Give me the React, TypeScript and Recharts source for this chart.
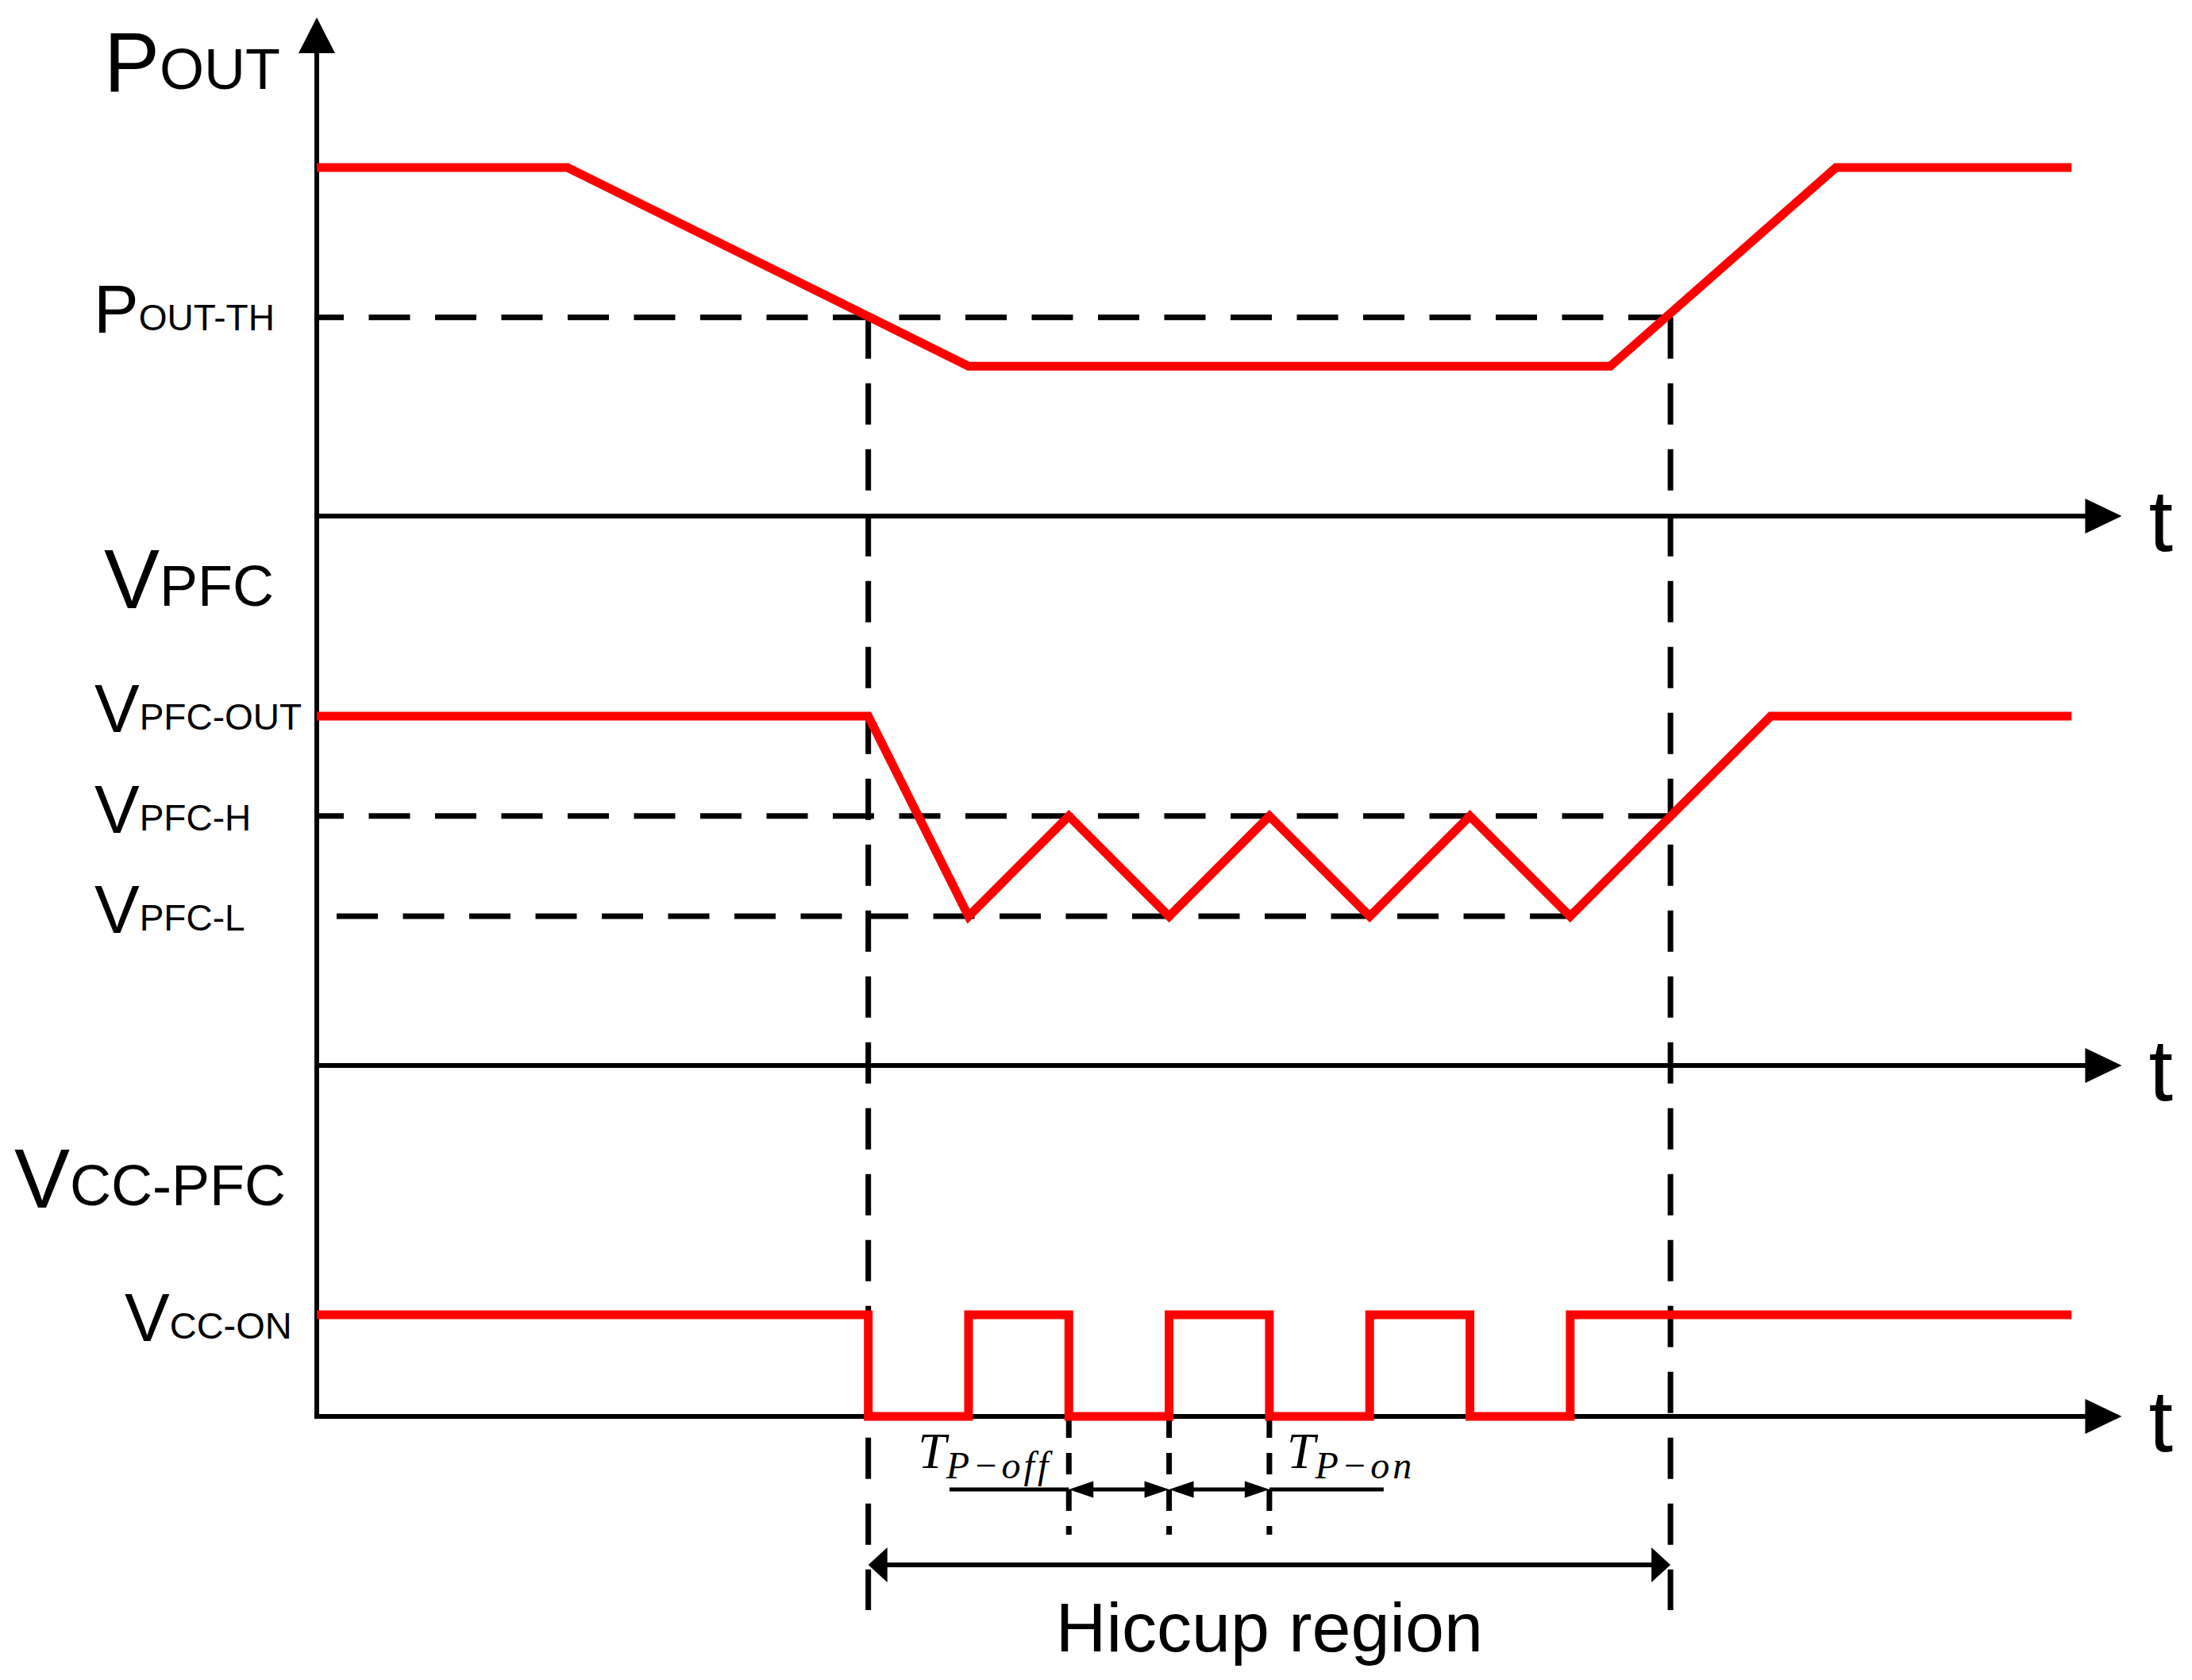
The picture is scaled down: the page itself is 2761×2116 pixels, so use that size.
import { ComposedChart, Line, XAxis, YAxis, ReferenceLine, ReferenceDot } from 'recharts';

// time axis in hiccup half-periods, t = 0 on the vertical axis
const poutTime = [0, 2.5, 6.5, 12.9, 15.15, 17.5];
const poutLevel = [1, 1, 0.43, 0.43, 1, 1];

const vpfcTime = [0, 5.5, 6.5, 7.5, 8.5, 9.5, 10.5, 11.5, 12.5, 14.5, 17.5];
const vpfcLevel = [1, 1, 0.427, 0.714, 0.427, 0.714, 0.427, 0.714, 0.427, 1, 1];

const vccTime = [0, 5.5, 6.5, 7.5, 8.5, 9.5, 10.5, 11.5, 12.5, 17.5];
const vccLevel = [1, 0, 1, 0, 1, 0, 1, 0, 1, 1];

const POUT_TH = 0.57;
const VPFC_OUT = 1;
const VPFC_H = 0.714;
const VPFC_L = 0.427;
const VCC_ON = 1;
const HICCUP = [5.5, 13.5];
const TP_MARKS = [7.5, 8.5, 9.5];
const T_END = 18;

const signalTitles = [['P', 'OUT'], ['V', 'PFC'], ['V', 'CC-PFC']];
const levelTitles = [['P', 'OUT-TH'], ['V', 'PFC-OUT'], ['V', 'PFC-H'], ['V', 'PFC-L'], ['V', 'CC-ON']];
const tpLabels = [['T', 'P−off'], ['T', 'P−on']];
const regionLabel = 'Hiccup region';
const timeLabel = 't';

// layout
const W = 2761;
const H = 2116;
const T_MIN = -3.159;
const T_MAX = 18.701;
const V_MIN = -33.2;
const V_MAX = 178.4;
const lanes: Record<string, { base: number; amp: number }> = {
  pout: { base: 113.4, amp: 43.9 },
  vpfc: { base: 44.2, amp: 44 },
  vcc: { base: 0, amp: 12.8 },
};
const lv = (lane: string, value: number) => lanes[lane].base + value * lanes[lane].amp;

const AXIS_TOP = 176.2;
const VLINE_BOTTOM = -24.4;
const DOT_BOTTOM = -14.9;
const TP_ARROW_V = -9.2;
const HICCUP_ARROW_V = -18.7;
const HICCUP_TEXT_V = -29.6;
const TP_OFF_START = 6.31;
const TP_ON_END = 10.64;
const VPFC_L_START = 0.198;

const SANS = "'Liberation Sans', Arial, sans-serif";
const SERIF = "'Liberation Serif', 'Times New Roman', serif";
const RED = '#ff0000';

const titleStyle = [
  { lane: 'pout', level: 1, dx: -268, dy: -96, size: 105, sub: 72 },
  { lane: 'vpfc', level: VPFC_OUT, dx: -268, dy: -136, size: 105, sub: 72 },
  { lane: 'vcc', level: VCC_ON, dx: -381, dy: -135, size: 105, sub: 72 },
];
const levelStyle = [
  { lane: 'pout', level: POUT_TH, dx: -281, dy: 19, size: 85, sub: 46 },
  { lane: 'vpfc', level: VPFC_OUT, dx: -280, dy: 20, size: 85, sub: 46 },
  { lane: 'vpfc', level: VPFC_H, dx: -280, dy: 21, size: 85, sub: 46 },
  { lane: 'vpfc', level: VPFC_L, dx: -280, dy: 21, size: 85, sub: 46 },
  { lane: 'vcc', level: VCC_ON, dx: -242, dy: 33, size: 85, sub: 47 },
];

function Arrow(p: any) {
  const { x1, y1, x2, y2, w = 6, len = 45, half = 22, start = false, end = true, cap = 'butt' } = p;
  const dx = x2 - x1;
  const dy = y2 - y1;
  const L = Math.hypot(dx, dy) || 1;
  const ux = dx / L;
  const uy = dy / L;
  const head = (tx: number, ty: number, ax: number, ay: number) => {
    const bx = tx - ax * len;
    const by = ty - ay * len;
    const px = -ay * half;
    const py = ax * half;
    return `${tx},${ty} ${bx + px},${by + py} ${bx - px},${by - py}`;
  };
  return (
    <g>
      <line
        x1={start ? x1 + ux * (len - 1) : x1}
        y1={start ? y1 + uy * (len - 1) : y1}
        x2={end ? x2 - ux * (len - 1) : x2}
        y2={end ? y2 - uy * (len - 1) : y2}
        stroke="#000"
        strokeWidth={w}
        strokeLinecap={cap}
      />
      {start && <polygon points={head(x1, y1, -ux, -uy)} fill="#000" />}
      {end && <polygon points={head(x2, y2, ux, uy)} fill="#000" />}
    </g>
  );
}

function Dashed(p: any) {
  const { x1, y1, x2, y2, dash = '52 31.5', offset = 0, w = 7 } = p;
  return (
    <line x1={x1} y1={y1} x2={x2} y2={y2} stroke="#000" strokeWidth={w} strokeDasharray={dash} strokeDashoffset={offset} />
  );
}

function SubLabel(p: any) {
  const { cx, cy, dx, dy, main, sub, size, subSize } = p;
  return (
    <text x={cx + dx} y={cy + dy} fontFamily={SANS} fill="#000">
      <tspan fontSize={size}>{main}</tspan>
      <tspan fontSize={subSize} dy={-3}>{sub}</tspan>
    </text>
  );
}

function MathLabel(p: any) {
  const { cx, cy, dx, dy, main, sub } = p;
  return (
    <text x={cx + dx} y={cy + dy} fontFamily={SERIF} fontStyle="italic" fill="#000">
      <tspan fontSize={64}>{main}</tspan>
      <tspan fontSize={48} dy={13} letterSpacing={4}>{sub}</tspan>
    </text>
  );
}

function PlainLabel(p: any) {
  const { cx, cy, dx = 0, dy = 0, text, size, anchor = 'start' } = p;
  return (
    <text x={cx + dx} y={cy + dy} fontFamily={SANS} fontSize={size} textAnchor={anchor} fill="#000">
      {text}
    </text>
  );
}

export default function App() {
  const poutData = poutTime.map((t, i) => ({ t, v: lv('pout', poutLevel[i]) }));
  const vpfcData = vpfcTime.map((t, i) => ({ t, v: lv('vpfc', vpfcLevel[i]) }));
  const vccData = vccTime.map((t, i) => ({ t, v: lv('vcc', vccLevel[i]) }));
  const laneKeys = ['pout', 'vpfc', 'vcc'];

  return (
    <div style={{ position: 'absolute', left: 0, top: 0, width: W, height: H, background: '#fff' }}>
      <ComposedChart width={W} height={H} margin={{ top: 0, right: 0, bottom: 0, left: 0 }}>
        <XAxis type="number" dataKey="t" domain={[T_MIN, T_MAX]} allowDataOverflow hide />
        <YAxis type="number" domain={[V_MIN, V_MAX]} allowDataOverflow hide />

        {/* level guides */}
        <ReferenceLine
          segment={[{ x: 0, y: lv('pout', POUT_TH) }, { x: HICCUP[1], y: lv('pout', POUT_TH) }]}
          shape={(p: any) => <Dashed {...p} offset={18} />}
        />
        <ReferenceLine
          segment={[{ x: 0, y: lv('vpfc', VPFC_H) }, { x: HICCUP[1], y: lv('vpfc', VPFC_H) }]}
          shape={(p: any) => <Dashed {...p} offset={18} />}
        />
        <ReferenceLine
          segment={[{ x: VPFC_L_START, y: lv('vpfc', VPFC_L) }, { x: vpfcTime[8], y: lv('vpfc', VPFC_L) }]}
          shape={(p: any) => <Dashed {...p} />}
        />
        {HICCUP.map((t) => (
          <ReferenceLine
            key={'h' + t}
            segment={[{ x: t, y: lv('pout', POUT_TH) }, { x: t, y: VLINE_BOTTOM }]}
            shape={(p: any) => <Dashed {...p} dash="52 31" />}
          />
        ))}
        {TP_MARKS.map((t) => (
          <ReferenceLine
            key={'m' + t}
            segment={[{ x: t, y: 0 }, { x: t, y: DOT_BOTTOM }]}
            shape={(p: any) => <Dashed {...p} dash="27 19" />}
          />
        ))}

        {/* axes */}
        <ReferenceLine
          segment={[{ x: 0, y: 0 }, { x: 0, y: AXIS_TOP }]}
          shape={(p: any) => <Arrow {...p} len={45} half={23} cap="square" />}
        />
        {laneKeys.map((k) => (
          <ReferenceLine
            key={'ax' + k}
            segment={[{ x: 0, y: lanes[k].base }, { x: T_END, y: lanes[k].base }]}
            shape={(p: any) => <Arrow {...p} len={46} half={22} cap="square" />}
          />
        ))}

        {/* Tp dimension arrows */}
        <ReferenceLine
          segment={[{ x: TP_OFF_START, y: TP_ARROW_V }, { x: TP_MARKS[0], y: TP_ARROW_V }]}
          shape={(p: any) => <Arrow {...p} w={5} end={false} />}
        />
        <ReferenceLine
          segment={[{ x: TP_MARKS[0], y: TP_ARROW_V }, { x: TP_MARKS[1], y: TP_ARROW_V }]}
          shape={(p: any) => <Arrow {...p} w={5} len={31} half={10.5} start end />}
        />
        <ReferenceLine
          segment={[{ x: TP_MARKS[1], y: TP_ARROW_V }, { x: TP_MARKS[2], y: TP_ARROW_V }]}
          shape={(p: any) => <Arrow {...p} w={5} len={31} half={10.5} start end />}
        />
        <ReferenceLine
          segment={[{ x: TP_MARKS[2], y: TP_ARROW_V }, { x: TP_ON_END, y: TP_ARROW_V }]}
          shape={(p: any) => <Arrow {...p} w={5} end={false} />}
        />
        <ReferenceLine
          segment={[{ x: HICCUP[0], y: HICCUP_ARROW_V }, { x: HICCUP[1], y: HICCUP_ARROW_V }]}
          shape={(p: any) => <Arrow {...p} w={6} len={24} half={22} start end />}
        />

        {/* labels */}
        {signalTitles.map(([m, s], i) => {
          const st = titleStyle[i];
          return (
            <ReferenceDot
              key={'st' + i}
              x={0}
              y={lv(st.lane, st.level)}
              r={1}
              shape={(p: any) => <SubLabel {...p} dx={st.dx} dy={st.dy} main={m} sub={s} size={st.size} subSize={st.sub} />}
            />
          );
        })}
        {levelTitles.map(([m, s], i) => {
          const st = levelStyle[i];
          return (
            <ReferenceDot
              key={'lt' + i}
              x={0}
              y={lv(st.lane, st.level)}
              r={1}
              shape={(p: any) => <SubLabel {...p} dx={st.dx} dy={st.dy} main={m} sub={s} size={st.size} subSize={st.sub} />}
            />
          );
        })}
        {laneKeys.map((k) => (
          <ReferenceDot
            key={'t' + k}
            x={T_END}
            y={lanes[k].base}
            r={1}
            shape={(p: any) => <PlainLabel {...p} dx={34} dy={44} text={timeLabel} size={110} />}
          />
        ))}
        <ReferenceDot
          x={TP_MARKS[0]}
          y={TP_ARROW_V}
          r={1}
          shape={(p: any) => <MathLabel {...p} dx={-190} dy={-27} main={tpLabels[0][0]} sub={tpLabels[0][1]} />}
        />
        <ReferenceDot
          x={TP_MARKS[2]}
          y={TP_ARROW_V}
          r={1}
          shape={(p: any) => <MathLabel {...p} dx={22} dy={-27} main={tpLabels[1][0]} sub={tpLabels[1][1]} />}
        />
        <ReferenceDot
          x={TP_MARKS[2]}
          y={HICCUP_TEXT_V}
          r={1}
          shape={(p: any) => <PlainLabel {...p} text={regionLabel} size={88} anchor="middle" />}
        />

        {/* signals */}
        <Line data={poutData} dataKey="v" type="linear" stroke={RED} strokeWidth={11} dot={false} activeDot={false} isAnimationActive={false} />
        <Line data={vpfcData} dataKey="v" type="linear" stroke={RED} strokeWidth={11} dot={false} activeDot={false} isAnimationActive={false} />
        <Line data={vccData} dataKey="v" type="stepAfter" stroke={RED} strokeWidth={11} dot={false} activeDot={false} isAnimationActive={false} />
      </ComposedChart>
    </div>
  );
}
